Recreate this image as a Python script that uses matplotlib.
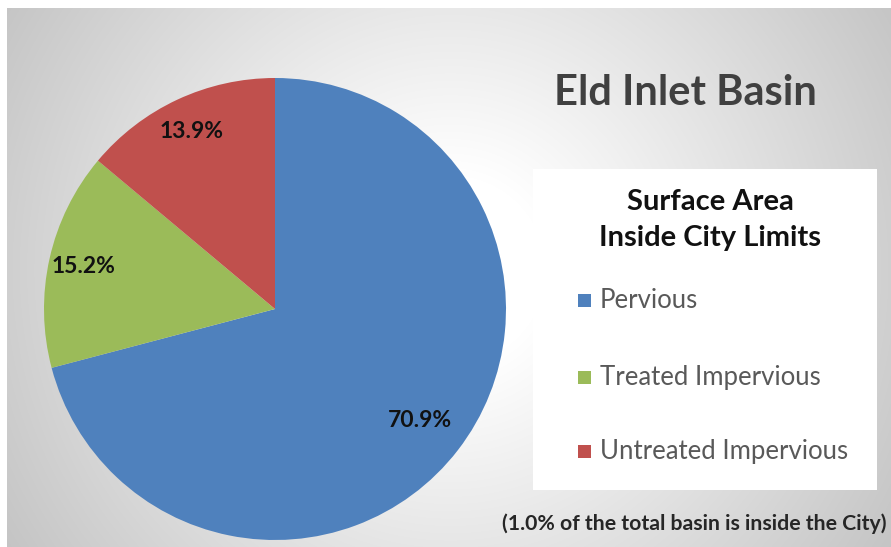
import matplotlib.pyplot as plt
import numpy as np
from matplotlib.patches import Rectangle

categories = ["Pervious", "Treated Impervious", "Untreated Impervious"]
shares = [70.9, 15.2, 13.9]
colors = ["#4F81BD", "#9BBB59", "#C0504D"]
label_radius = [0.79, 0.85, 0.85]

title = "Eld Inlet Basin"
legend_title = "Surface Area\nInside City Limits"
footnote = "(1.0% of the total basin is inside the City)"

W, H = 891, 547
fig = plt.figure(figsize=(W / 100, H / 100), dpi=100)
fig.patch.set_facecolor("white")

def px(x0, y0, x1, y1):
    # pixel box (top-left origin) -> figure fraction rect
    return [x0 / W, 1 - y1 / H, (x1 - x0) / W, (y1 - y0) / H]

# radial grey background
bg = fig.add_axes(px(7, 8, W, H))
bg.set_axis_off()
yy, xx = np.mgrid[8:H, 7:W]
d = np.hypot(xx - 450, yy - 270)
shade = np.clip(268 - 0.137 * d, 190, 255) / 255
bg.imshow(np.dstack([shade] * 3), aspect="auto", interpolation="bilinear")

# pie
cx, cy, r = 275, 309, 231
ax = fig.add_axes(px(cx - r, cy - r, cx + r, cy + r))
ax.set_axis_off()
wedges, _ = ax.pie(shares, colors=colors, startangle=90, counterclock=False,
                   wedgeprops=dict(linewidth=0))
ax.set_xlim(-1, 1)
ax.set_ylim(-1, 1)
for w, val, rr in zip(wedges, shares, label_radius):
    mid = np.deg2rad((w.theta1 + w.theta2) / 2)
    ax.text(rr * np.cos(mid), rr * np.sin(mid), f"{val:.1f}%", ha="center", va="center",
            fontsize=16.5, fontweight="bold", color="#111111", family="Lato")

fig.text(685 / W, 1 - 93 / H, title, ha="center", va="center", fontsize=30,
         fontweight="bold", color="#404040", family="Lato")

# legend panel
fig.add_artist(Rectangle((533 / W, 1 - 490 / H), (877 - 533) / W, (490 - 169) / H,
                         transform=fig.transFigure, facecolor="white", edgecolor="none"))
fig.text(710 / W, 1 - 220 / H, legend_title, ha="center", va="center", fontsize=21,
         fontweight="bold", color="#111111", family="Lato", linespacing=1.45)
for i, (name, c) in enumerate(zip(categories, colors)):
    y = [301, 378, 452][i]
    fig.add_artist(Rectangle((578 / W, 1 - (y + 6) / H), 13 / W, 13 / H,
                             transform=fig.transFigure, facecolor=c, edgecolor="none"))
    fig.text(600 / W, 1 - y / H, name, ha="left", va="center", fontsize=18.5,
             color="#595959", family="Lato")

fig.text(887 / W, 1 - 524 / H, footnote, ha="right", va="center", fontsize=15.3,
         fontweight="bold", color="#262626", family="Lato")

fig.savefig("out.png", dpi=100)
